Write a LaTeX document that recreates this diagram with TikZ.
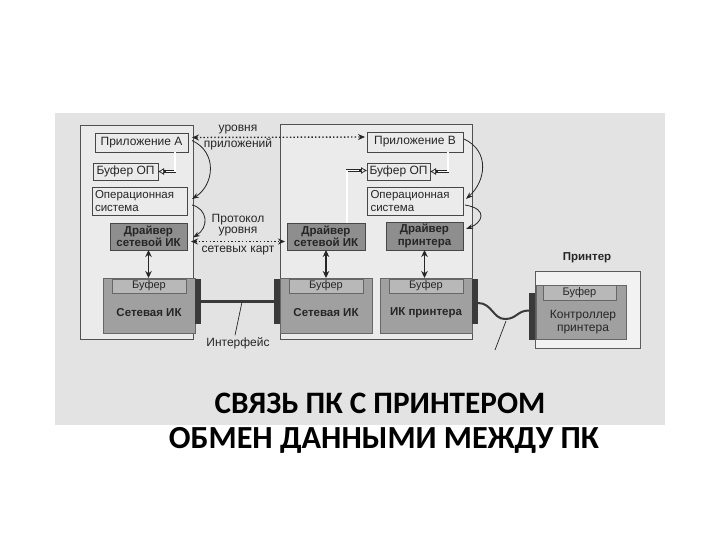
\documentclass[tikz,border=0pt]{standalone}
\usepackage{fontspec}
\setmainfont{Liberation Sans}
\newfontfamily\titlefont{Carlito}
\usetikzlibrary{arrows.meta,calc}
\definecolor{bgc}{HTML}{E3E3E3}
\definecolor{pcfill}{HTML}{EBEBEB}
\definecolor{drvc}{HTML}{8E8E8E}
\definecolor{cardc}{HTML}{A0A0A0}
\definecolor{cardin}{HTML}{B8B8B8}
\definecolor{stripc}{HTML}{3A3A3A}
\definecolor{ink}{HTML}{262626}
\begin{document}
\begin{tikzpicture}[x=1pt,y=-1pt,
  every node/.style={inner sep=0pt, outer sep=0pt, text=ink},
  txt/.style={font=\fontsize{12}{13}\selectfont},
  pc/.style={draw=ink!80, line width=0.8pt, fill=pcfill},
  wbox/.style={draw=ink!85, line width=0.8pt, fill=white!92!black, font=\fontsize{12}{13}\selectfont},
  dbox/.style={draw=ink!85, line width=0.8pt, fill=drvc, font=\bfseries\fontsize{11.5}{12.5}\selectfont, align=center},
  card/.style={draw=ink!70, line width=0.8pt, fill=cardc},
  cbuf/.style={draw=ink!70, line width=0.7pt, fill=cardin, font=\fontsize{11}{12}\selectfont},
  stripbox/.style={fill=stripc, minimum width=6, minimum height=45},
  curv/.style={draw=ink, line width=0.8pt, -{Stealth[length=7pt,width=5pt]}},
  dots/.style={draw=ink, line width=1.4pt, dash pattern=on 1.4pt off 2.2pt, {Stealth[length=7pt,width=6pt]}-{Stealth[length=7pt,width=6pt]}},
  hollow/.style={draw=ink, line width=0.6pt, double=white, double distance=1.5pt, shorten >=5pt},
  hollowtip/.style={draw=ink, line width=0.7pt, -{Latex[open,length=6pt,width=7pt]}},
  vert/.style={draw=ink, line width=1.3pt, {Stealth[length=7pt,width=6.5pt]}-{Stealth[length=7pt,width=6.5pt]}}
]
\useasboundingbox (0,0) rectangle (720,540);
\node[fill=bgc, minimum width=610, minimum height=312] (bg) at (360,269) {};

% PC boxes
\node[pc, minimum width=113, minimum height=214] (pcA) at (136.5,232) {};
\node[pc, minimum width=192, minimum height=215] (pcB) at (376,231.5) {};

% left PC
\node[wbox, minimum width=93, minimum height=19] (appA) at (141.5,142.5) {Приложение A};
\node[wbox, minimum width=65, minimum height=17] (bufA) at (125.5,171.5) {Буфер ОП};
\node[wbox, minimum width=95, minimum height=28, align=left, text width=89, font=\fontsize{11.5}{12.5}\selectfont] (osA) at (139.5,201) {Операционная\\система};
\node[dbox, minimum width=77, minimum height=27] (drvA) at (148.5,236.5) {Драйвер\\сетевой ИК};

% middle PC
\node[wbox, minimum width=96, minimum height=20] (appB) at (415,142) {Приложение B};
\node[wbox, minimum width=63, minimum height=17] (bufB) at (398.5,171.5) {Буфер ОП};
\node[wbox, minimum width=96, minimum height=28, align=left, text width=89, font=\fontsize{11.5}{12.5}\selectfont] (osB) at (415,201) {Операционная\\система};
\node[dbox, minimum width=78, minimum height=27] (drvB) at (326,236.5) {Драйвер\\сетевой ИК};
\node[dbox, minimum width=77, minimum height=28] (drvP) at (424.5,236) {Драйвер\\принтера};

% network cards
\node[card, minimum width=92, minimum height=55] (nicA) at (149,305.5) {};
\node[cbuf, minimum width=74, minimum height=14] (nbA) at (149,286) {Буфер};
\node[font=\bfseries\fontsize{11.5}{12.5}\selectfont] (ntA) at (149,313) {Сетевая ИК};
\node[stripbox] (stA) at (198,301) {};

\node[card, minimum width=92, minimum height=55] (nicB) at (326,305.5) {};
\node[cbuf, minimum width=74, minimum height=14] (nbB) at (326,286) {Буфер};
\node[font=\bfseries\fontsize{11.5}{12.5}\selectfont] (ntB) at (326,313) {Сетевая ИК};
\node[stripbox] (stB) at (277,301) {};

\node[card, minimum width=92, minimum height=55] (nicP) at (426,305.5) {};
\node[cbuf, minimum width=74, minimum height=14] (nbP) at (426,286) {Буфер};
\node[font=\bfseries\fontsize{11.5}{12.5}\selectfont] (ntP) at (426,313) {ИК принтера};
\node[stripbox] (stP) at (475,301) {};

% printer
\node[font=\bfseries\fontsize{11.5}{12.5}\selectfont] (prl) at (587,258) {Принтер};
\node[draw=ink!75, line width=0.8pt, fill=white!95!black, minimum width=105, minimum height=77] (pr) at (587.5,309.5) {};
\node[card, minimum width=90, minimum height=54] (prc) at (581,312) {};
\node[cbuf, minimum width=73, minimum height=15] (prb) at (579.5,292.5) {Буфер};
\node[txt, align=center] (prt) at (583,322) {Контроллер\\принтера};
\node[stripbox, minimum height=47] (stR) at (532,316.5) {};

% labels between PCs
\node[txt] (l1) at (238,130) {уровня};
\node[txt] (l2) at (238,144) {приложений};
\node[txt] (l3) at (238,220) {Протокол};
\node[txt] (l4) at (238,232) {уровня};
\node[txt] (l5) at (238,251) {сетевых карт};
\node[txt] (ifl) at (238,343) {Интерфейс};

% dotted protocol arrows
\draw[dots] ($(appA.east)+(4,-5)$) -- ($(appB.west)+(-2,-5)$);
\draw[dots] ($(drvA.east)+(4,5)$) -- ($(drvB.west)+(-2,5)$);

% curved arrows
\draw[curv] ($(appA.east)+(4,-2)$) .. controls +(26,12) and +(22,-14) .. ($(osA.east)+(5,-2)$);
\draw[curv] ($(osA.east)+(5,4)$) .. controls +(16,4) and +(16,-10) .. ($(drvA.east)+(6,1)$);
\draw[curv] ($(appB.east)+(1,-3)$) .. controls +(26,12) and +(20,-18) .. ($(osB.east)+(3,-2)$);
\draw[curv] ($(osB.east)+(2,4)$) .. controls +(24,4) and +(16,-6) .. ($(drvP.east)+(3,-7)$);

% hollow elbow arrows
\draw[hollow] ($(appA.south east)+(-13,0)$) |- (bufA.east);
\draw[hollowtip] ($(bufA.east)+(8,0)$) -- (bufA.east);
\draw[hollow] ($(appB.south east)+(-15,0)$) |- (bufB.east);
\draw[hollowtip] ($(bufB.east)+(8,0)$) -- (bufB.east);
\draw[hollow] ($(drvB.north east)+(-18,0)$) |- ($(bufB.west)+(0,-1)$);
\draw[hollowtip] ($(bufB.west)+(-8,-1)$) -- ($(bufB.west)+(0,-1)$);

% vertical arrows
\draw[vert] (drvA.south) -- (drvA.south |- nicA.north);
\draw[vert] (drvB.south) -- (drvB.south |- nicB.north);
\draw[vert] (drvP.south) -- (drvP.south |- nicP.north);

% cables
\draw[stripc, line width=3pt] (stA.east) -- (stB.west);
\coordinate (wv) at (505,319);
\draw[stripc, line width=2pt] ($(stP.east)+(0,2)$) .. controls +(14,0) and +(-12,0) .. (wv) .. controls +(12,0) and +(-12,0) .. ($(stR.west)+(0,-6)$);
\coordinate (ip) at (242,302);
\draw[ink, line width=0.7pt] ($(ifl.north)+(-3,-2)$) -- (ip);
\coordinate (pp) at (495,350);
\draw[ink, line width=0.7pt] (pp) -- ($(wv)+(1,2)$);

% titles
\node[font=\titlefont\bfseries\fontsize{31.2}{38}\selectfont, text=black] (t1) at (380,403) {СВЯЗЬ ПК С ПРИНТЕРОМ};
\node[font=\titlefont\bfseries\fontsize{32.2}{38}\selectfont, text=black] (t2) at (384,440) {ОБМЕН ДАННЫМИ МЕЖДУ ПК};
\end{tikzpicture}
\end{document}
